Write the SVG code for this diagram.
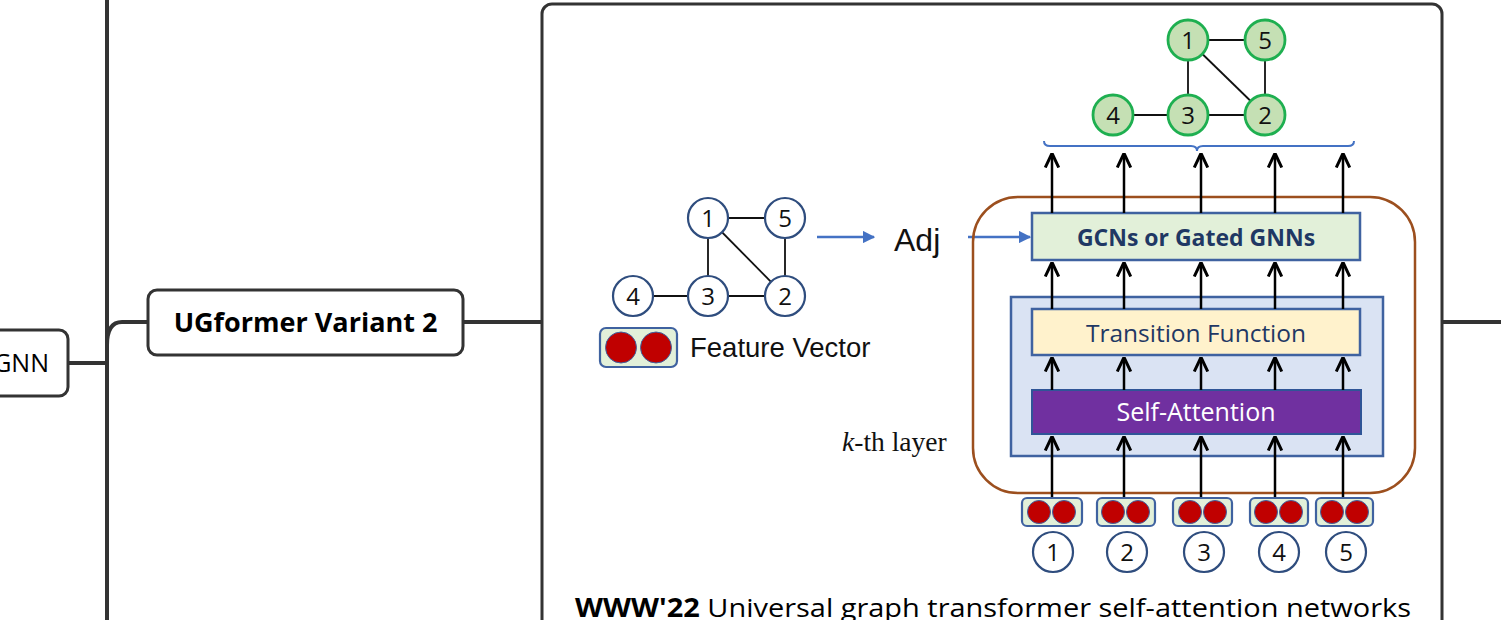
<svg xmlns="http://www.w3.org/2000/svg" width="1501" height="620" viewBox="0 0 1501 620">
<defs>
<style>
.conn{fill:none;stroke:#333;stroke-width:4;stroke-linecap:butt}
.mm{fill:#fff;stroke:#333;stroke-width:3}
.mmtxt{font-family:"Open Sans","Liberation Sans",sans-serif;font-size:23px;fill:#000;text-anchor:middle}
.gc{fill:#fff;stroke:#2F4D7E;stroke-width:2.2}
.gg{fill:#C5E0B4;stroke:#1EAF50;stroke-width:2.8}
.ge{stroke:#111;stroke-width:1.8}
.num{font-family:"Open Sans","Liberation Sans",sans-serif;font-size:24px;fill:#111;text-anchor:middle}
.arr{stroke:#000;stroke-width:2.5;fill:none;marker-end:url(#ah)}
.barr{stroke:#4472C4;stroke-width:2.5;fill:none;marker-end:url(#bh)}
.fv{fill:#E2F0D9;stroke:#3F62A0;stroke-width:2.2}
.red{fill:#C00000;stroke:#3F62A0;stroke-width:1}
.box{stroke:#3F62A0;stroke-width:2.5}
.btxt{font-family:"Open Sans","Liberation Sans",sans-serif;font-size:24px;text-anchor:middle}
</style>
<marker id="ah" viewBox="0 0 10 10" refX="9" refY="5" markerWidth="6" markerHeight="6.5" orient="auto" markerUnits="strokeWidth">
<path d="M0,0.5 L9.5,5 L0,9.5" fill="none" stroke="#000" stroke-width="2"/>
</marker>
<marker id="bh" viewBox="0 0 10 10" refX="9" refY="5" markerWidth="5" markerHeight="5" orient="auto" markerUnits="strokeWidth">
<path d="M0,0 L10,5 L0,10 Z" fill="#4472C4"/>
</marker>
</defs>

<g id="connectors">
<line class="conn" x1="107" y1="0" x2="107" y2="620"/>
<line class="conn" x1="68" y1="363" x2="107" y2="363"/>
<path class="conn" d="M107,345 Q107,322 122,322 L148,322"/>
<line class="conn" x1="463" y1="322" x2="542" y2="322"/>
<line class="conn" x1="1442" y1="322" x2="1501" y2="322"/>
</g>

<g id="node-gnn">
<rect class="mm" x="-20" y="330" width="88" height="66" rx="9"/>
<text class="mmtxt" x="49" y="372" style="font-size:25px;text-anchor:end">GNN</text>
</g>

<g id="node-ugformer">
<rect class="mm" x="148" y="290" width="315" height="65" rx="9"/>
<text class="mmtxt" x="305.5" y="332" font-weight="bold" style="font-size:27px">UGformer Variant 2</text>
</g>

<g id="node-figure">
<rect class="mm" x="542" y="4" width="900" height="650" rx="10"/>

<g id="input-graph">
<line class="ge" x1="708" y1="218" x2="785" y2="218"/>
<line class="ge" x1="708" y1="218" x2="708" y2="296"/>
<line class="ge" x1="708" y1="218" x2="785" y2="296"/>
<line class="ge" x1="785" y1="218" x2="785" y2="296"/>
<line class="ge" x1="633" y1="296" x2="708" y2="296"/>
<line class="ge" x1="708" y1="296" x2="785" y2="296"/>
<circle class="gc" cx="708" cy="218" r="20"/>
<circle class="gc" cx="785" cy="218" r="20"/>
<circle class="gc" cx="633" cy="296" r="20"/>
<circle class="gc" cx="708" cy="296" r="20"/>
<circle class="gc" cx="785" cy="296" r="20"/>
<text class="num" x="708" y="227">1</text>
<text class="num" x="785" y="227">5</text>
<text class="num" x="633" y="305">4</text>
<text class="num" x="708" y="305">3</text>
<text class="num" x="785" y="305">2</text>
</g>

<g id="feature-legend">
<rect class="fv" x="600" y="328" width="77" height="39" rx="6"/>
<circle class="red" cx="621" cy="347.5" r="15.5"/>
<circle class="red" cx="656" cy="347.5" r="15.5"/>
<text x="690" y="357" style="font-family:'Liberation Sans',Arial,sans-serif;font-size:27.5px;fill:#111">Feature Vector</text>
</g>

<line class="barr" x1="817" y1="237" x2="874" y2="237"/>
<text x="894" y="251" style="font-family:'Liberation Sans',Arial,sans-serif;font-size:32px;fill:#111">Adj</text>
<line class="barr" x1="968" y1="237" x2="1030" y2="237"/>

<text x="842" y="451" style="font-family:'Liberation Serif','Times New Roman',serif;font-size:27.5px;fill:#111"><tspan font-style="italic">k</tspan>-th layer</text>

<rect x="973" y="197" width="442" height="296" rx="45" fill="none" stroke="#9C4F1E" stroke-width="2.5"/>
<rect class="box" x="1011" y="297" width="372" height="159" fill="#DAE3F3"/>
<rect class="box" x="1032" y="213" width="328" height="47" fill="#E2F0D9"/>
<text class="btxt" x="1196" y="246" font-weight="bold" fill="#1F3864" style="font-size:23px">GCNs or Gated GNNs</text>
<rect class="box" x="1032" y="309" width="328" height="46" fill="#FFF2CC"/>
<text class="btxt" x="1196" y="342" fill="#1F3864" style="font-size:24.5px">Transition Function</text>
<rect x="1032" y="390" width="329" height="44" fill="#7030A0" stroke="#2F5597" stroke-width="2"/>
<text class="btxt" x="1196" y="421" fill="#fff" style="font-size:25px">Self-Attention</text>

<g id="layer-arrows">
<line class="arr" x1="1052" y1="213" x2="1052" y2="154"/>
<line class="arr" x1="1124" y1="213" x2="1124" y2="154"/>
<line class="arr" x1="1201" y1="213" x2="1201" y2="154"/>
<line class="arr" x1="1275" y1="213" x2="1275" y2="154"/>
<line class="arr" x1="1343" y1="213" x2="1343" y2="154"/>
<line class="arr" x1="1052" y1="309" x2="1052" y2="263"/>
<line class="arr" x1="1124" y1="309" x2="1124" y2="263"/>
<line class="arr" x1="1201" y1="309" x2="1201" y2="263"/>
<line class="arr" x1="1275" y1="309" x2="1275" y2="263"/>
<line class="arr" x1="1343" y1="309" x2="1343" y2="263"/>
<line class="arr" x1="1052" y1="390" x2="1052" y2="358"/>
<line class="arr" x1="1124" y1="390" x2="1124" y2="358"/>
<line class="arr" x1="1201" y1="390" x2="1201" y2="358"/>
<line class="arr" x1="1275" y1="390" x2="1275" y2="358"/>
<line class="arr" x1="1343" y1="390" x2="1343" y2="358"/>
<line class="arr" x1="1052" y1="498" x2="1052" y2="437"/>
<line class="arr" x1="1124" y1="498" x2="1124" y2="437"/>
<line class="arr" x1="1201" y1="498" x2="1201" y2="437"/>
<line class="arr" x1="1275" y1="498" x2="1275" y2="437"/>
<line class="arr" x1="1343" y1="498" x2="1343" y2="437"/>
</g>

<g id="input-vectors">
<rect class="fv" x="1022" y="498" width="60" height="28" rx="5"/>
<circle class="red" cx="1039" cy="512" r="11.5"/><circle class="red" cx="1064" cy="512" r="11.5"/>
<rect class="fv" x="1097" y="498" width="58" height="28" rx="5"/>
<circle class="red" cx="1113" cy="512" r="11.5"/><circle class="red" cx="1138" cy="512" r="11.5"/>
<rect class="fv" x="1173" y="498" width="59" height="28" rx="5"/>
<circle class="red" cx="1190" cy="512" r="11.5"/><circle class="red" cx="1215" cy="512" r="11.5"/>
<rect class="fv" x="1250" y="498" width="58" height="28" rx="5"/>
<circle class="red" cx="1266" cy="512" r="11.5"/><circle class="red" cx="1291" cy="512" r="11.5"/>
<rect class="fv" x="1316" y="498" width="57" height="28" rx="5"/>
<circle class="red" cx="1332" cy="512" r="11.5"/><circle class="red" cx="1357" cy="512" r="11.5"/>
</g>

<g id="input-nodes">
<circle class="gc" cx="1053" cy="552" r="20" stroke="#2F5597"/>
<circle class="gc" cx="1127" cy="552" r="20" stroke="#2F5597"/>
<circle class="gc" cx="1204" cy="552" r="20" stroke="#2F5597"/>
<circle class="gc" cx="1279" cy="552" r="20" stroke="#2F5597"/>
<circle class="gc" cx="1346" cy="552" r="20" stroke="#2F5597"/>
<text class="num" x="1053" y="561">1</text>
<text class="num" x="1127" y="561">2</text>
<text class="num" x="1204" y="561">3</text>
<text class="num" x="1279" y="561">4</text>
<text class="num" x="1346" y="561">5</text>
</g>

<path d="M1044,141 Q1044,146 1050,146 L1191,146 Q1197,146 1197,151 Q1197,146 1203,146 L1348,146 Q1354,146 1354,141" fill="none" stroke="#4472C4" stroke-width="2"/>

<g id="output-graph">
<line class="ge" x1="1188" y1="40" x2="1265" y2="40"/>
<line class="ge" x1="1188" y1="40" x2="1188" y2="115"/>
<line class="ge" x1="1188" y1="40" x2="1265" y2="115"/>
<line class="ge" x1="1265" y1="40" x2="1265" y2="115"/>
<line class="ge" x1="1113" y1="115" x2="1188" y2="115"/>
<line class="ge" x1="1188" y1="115" x2="1265" y2="115"/>
<circle class="gg" cx="1188" cy="40" r="20"/>
<circle class="gg" cx="1265" cy="40" r="20"/>
<circle class="gg" cx="1113" cy="115" r="20"/>
<circle class="gg" cx="1188" cy="115" r="20"/>
<circle class="gg" cx="1265" cy="115" r="20"/>
<text class="num" x="1188" y="49">1</text>
<text class="num" x="1265" y="49">5</text>
<text class="num" x="1113" y="124">4</text>
<text class="num" x="1188" y="124">3</text>
<text class="num" x="1265" y="124">2</text>
</g>

<text x="575" y="617" style="font-family:'Open Sans','Liberation Sans',sans-serif;font-size:26px;fill:#000" textLength="836" lengthAdjust="spacingAndGlyphs"><tspan font-weight="bold">WWW'22</tspan> Universal graph transformer self-attention networks</text>
</g>
</svg>
